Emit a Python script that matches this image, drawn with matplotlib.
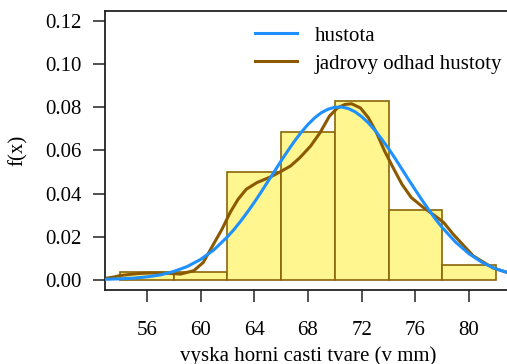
import matplotlib
matplotlib.use("Agg")
import matplotlib.pyplot as plt

# --- histogram (density) ---
bin_edges = [54, 58, 62, 66, 70, 74, 78, 82]
bar_density = [0.0034, 0.0034, 0.0502, 0.0684, 0.0829, 0.0323, 0.0070]

# --- normal density curve ---
norm_x = [53, 54, 55, 56, 57, 58, 59, 60, 61, 62, 62.5, 63, 63.5, 64, 64.5,
          65, 65.5, 66, 66.5, 67, 67.5, 68, 68.5, 69, 69.5, 70, 70.5, 71,
          71.5, 72, 72.5, 73, 73.5, 74, 74.5, 75, 75.5, 76, 76.5, 77, 77.5,
          78, 79, 80, 81, 82, 83]
norm_y = [0.0002, 0.0004, 0.0007, 0.0013, 0.0022, 0.0038, 0.0061, 0.0094,
          0.0139, 0.0199, 0.0234, 0.0273, 0.0315, 0.0359, 0.0406, 0.0455,
          0.0503, 0.0552, 0.0599, 0.0644, 0.0685, 0.0721, 0.0752, 0.0776,
          0.0792, 0.0801, 0.0802, 0.0795, 0.0780, 0.0757, 0.0728, 0.0693,
          0.0652, 0.0609, 0.0562, 0.0513, 0.0464, 0.0416, 0.0369, 0.0324,
          0.0281, 0.0242, 0.0174, 0.0120, 0.0079, 0.0050, 0.0031]

# --- kernel density estimate ---
kde_x = [52.9, 53.5, 54.0, 54.8, 55.5, 56.3, 57.0, 57.7, 58.5, 59.5, 60.2,
         60.9, 61.6, 62.2, 62.8, 63.4, 64.2, 65.2, 65.9, 66.7, 67.4, 68.2,
         68.9, 69.6, 70.2, 70.75, 71.25, 71.9, 72.5, 73.1, 73.7, 74.4, 75.0,
         75.7, 76.6, 77.3, 78.1, 78.8, 79.6, 80.3, 81.1, 81.8, 82.8, 83.2]
kde_y = [0.0006, 0.0012, 0.0019, 0.0025, 0.0029, 0.0031, 0.0031, 0.0029,
         0.0026, 0.0042, 0.0080, 0.0158, 0.0235, 0.0312, 0.0374, 0.0420,
         0.0451, 0.0477, 0.0500, 0.0528, 0.0567, 0.0621, 0.0683, 0.0760,
         0.0798, 0.0814, 0.0817, 0.0798, 0.0752, 0.0683, 0.0598, 0.0513,
         0.0443, 0.0381, 0.0335, 0.0304, 0.0266, 0.0212, 0.0158, 0.0111,
         0.0080, 0.0054, 0.0034, 0.0029]

x_ticks = [56, 60, 64, 68, 72, 76, 80]
y_ticks = [0.00, 0.02, 0.04, 0.06, 0.08, 0.10, 0.12]

plt.rcParams['font.family'] = ['Liberation Serif', 'DejaVu Serif']
FS = 15

W, H = 507, 364
fig = plt.figure(figsize=(W / 100, H / 100), dpi=100)
ax = fig.add_axes([105 / W, (H - 290) / H, (511 - 105) / W, (290 - 11) / H])

widths = [b - a for a, b in zip(bin_edges[:-1], bin_edges[1:])]
ax.bar(bin_edges[:-1], bar_density, width=widths, align='edge',
       color='#FFF68F', edgecolor='#8B6508', linewidth=1.2, zorder=1)

ax.plot(norm_x, norm_y, color='#1E90FF', lw=2.2, label='hustota', zorder=3,
        solid_joinstyle='round')
ax.plot(kde_x, kde_y, color='#8B5A00', lw=2.2,
        label='jadrovy odhad hustoty', zorder=2, solid_joinstyle='round')

ax.set_xlim(52.88, 83.12)
ax.set_ylim(-0.0048, 0.1248)
ax.set_xticks(x_ticks)
ax.set_yticks(y_ticks)
ax.set_xticklabels([str(v) for v in x_ticks])
ax.set_yticklabels([f"{v:.2f}" for v in y_ticks])
ax.tick_params(axis='both', direction='out', length=8.5, width=1.1,
               color='#222222', labelsize=FS)
ax.tick_params(axis='x', pad=14)
ax.tick_params(axis='y', pad=8)
for s in ax.spines.values():
    s.set_linewidth(1.3)
    s.set_color('#222222')

ax.set_xlabel("vyska horni casti tvare (v mm)", fontsize=FS, labelpad=4)
ax.set_ylabel("f(x)", fontsize=FS, labelpad=13)

ax.legend(loc='upper left', bbox_to_anchor=(255 / W, (H - 26) / H),
          bbox_transform=fig.transFigure, frameon=False, fontsize=FS,
          handlelength=2.0, handletextpad=0.85, labelspacing=0.4,
          borderpad=0, borderaxespad=0)

fig.savefig("out.png", dpi=100)
